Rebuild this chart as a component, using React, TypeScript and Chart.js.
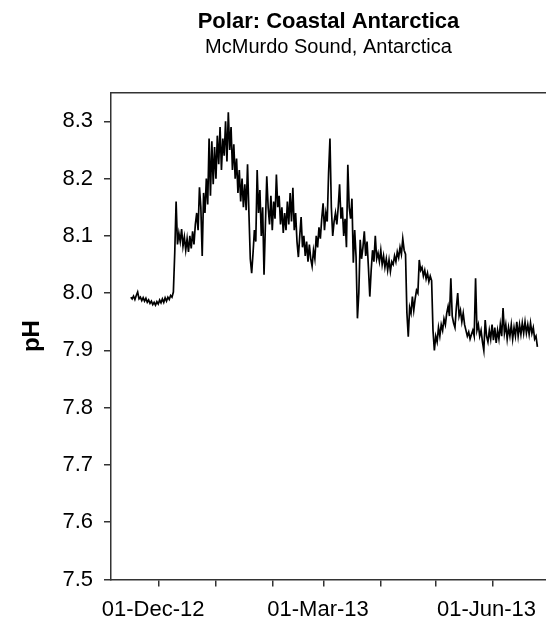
import { useEffect, useRef } from 'react';
import { Chart, registerables } from 'chart.js';

Chart.register(...registerables);

const titleText = 'Polar: Coastal Antarctica';
const subtitleText = 'McMurdo Sound, Antarctica';
const yAxisTitle = 'pH';

// x axis in days since 01-Dec-2012
const xTickDays = [0, 31, 62, 90, 121, 151, 182];
const xTickLabels = ['01-Dec-12', '', '', '01-Mar-13', '', '', '01-Jun-13'];
const yTickValues = [7.5, 7.6, 7.7, 7.8, 7.9, 8.0, 8.1, 8.2, 8.3];
const xMinDay = -26.3;
const xMaxDay = 211.2;
const yMin = 7.5;
const yMax = 8.35;

// regular sampling of the sensor record
const firstSampleDay = -15.5;
const sampleIntervalDays = 0.75;
const phValues = [
  7.993, 7.990, 7.995, 7.989, 7.996, 8.002, 7.990, 7.993, 7.987, 7.992, 7.986, 7.991, 7.984, 7.988, 7.982, 7.986,
  7.980, 7.984, 7.979, 7.985, 7.981, 7.988, 7.983, 7.990, 7.984, 7.992, 7.986, 7.993, 7.989, 7.996, 7.993, 8.002,
  8.070, 8.160, 8.085, 8.105, 8.090, 8.112, 8.082, 8.098, 8.075, 8.095, 8.072, 8.100, 8.078, 8.108, 8.085,
  8.120, 8.140, 8.110, 8.185, 8.150, 8.065, 8.175, 8.140,
  8.200, 8.155, 8.270, 8.170, 8.265, 8.190, 8.255,
  8.200, 8.275, 8.225, 8.290, 8.215, 8.270, 8.240, 8.300, 8.230, 8.316, 8.250, 8.290, 8.215, 8.260,
  8.200, 8.235, 8.175, 8.215, 8.160, 8.200, 8.150, 8.190, 8.145, 8.225,
  8.140, 8.060, 8.035, 8.070, 8.110, 8.090, 8.215, 8.140, 8.180, 8.100, 8.150, 8.032,
  8.120, 8.204, 8.150, 8.120, 8.170, 8.110, 8.160, 8.130, 8.207, 8.150, 8.170, 8.120, 8.150, 8.105, 8.140, 8.110,
  8.160, 8.120, 8.175, 8.125,
  8.184, 8.110, 8.140, 8.090, 8.063, 8.100, 8.133, 8.080, 8.100, 8.065, 8.090, 8.055, 8.085, 8.060, 8.047, 8.075,
  8.060, 8.100, 8.080, 8.115, 8.095, 8.130, 8.157,
  8.110, 8.140, 8.125, 8.210, 8.270, 8.150, 8.100, 8.125, 8.140, 8.120, 8.150, 8.190, 8.130, 8.150, 8.100, 8.130,
  8.080, 8.224, 8.150, 8.130, 8.165, 8.053, 8.110, 8.063,
  7.956, 8.000, 8.093, 8.060, 8.080, 8.108, 8.065, 8.090, 8.045, 7.994, 8.040, 8.075, 8.055, 8.100, 8.060, 8.070,
  8.055, 8.075, 8.050, 8.065, 8.045, 8.060, 8.040, 8.058, 8.038, 8.055, 8.050, 8.065, 8.055, 8.072, 8.062, 8.080,
  8.068, 8.095, 8.075, 8.068,
  7.966, 7.924, 7.975, 7.965, 7.994, 7.970, 7.990, 8.005, 8.000, 8.058, 8.040, 8.045, 8.030, 8.040, 8.025, 8.035,
  8.020, 8.030, 8.022,
  7.935, 7.900, 7.925, 7.915, 7.940, 7.925, 7.945, 7.935, 7.955, 7.945, 7.965, 7.977, 7.960, 8.026, 7.960, 7.948,
  7.940, 7.975, 8.000, 7.960, 7.970, 7.950, 7.965, 7.945, 7.935, 7.925, 7.932, 7.920, 7.928, 7.935, 7.925, 8.026,
  7.935, 7.945, 7.925, 7.935, 7.915, 7.900, 7.953, 7.925, 7.915, 7.935, 7.920, 7.945, 7.918, 7.940, 7.913, 7.935,
  7.920, 7.945, 7.925, 7.974, 7.930, 7.945, 7.920, 7.940, 7.925, 7.945, 7.920, 7.940, 7.925, 7.950, 7.925, 7.945,
  7.928, 7.948, 7.930, 7.950, 7.930, 7.945, 7.928, 7.948, 7.930, 7.940, 7.920, 7.925, 7.906,
];

const FONT = 'Liberation Sans, Arial, sans-serif';
const AXIS_COLOR = '#333333';

export default function App() {
  const ref = useRef<HTMLCanvasElement>(null);

  useEffect(() => {
    document.body.style.margin = '0';
    const points = phValues.map((v, i) => ({ x: firstSampleDay + i * sampleIntervalDays, y: v }));
    const chart = new Chart(ref.current as HTMLCanvasElement, {
      type: 'line',
      data: {
        datasets: [
          {
            data: points,
            borderColor: '#000000',
            borderWidth: 1.7,
            pointRadius: 0,
            tension: 0,
            fill: false,
          },
        ],
      },
      options: {
        animation: false,
        responsive: false,
        layout: { padding: 0 },
        plugins: {
          legend: { display: false },
          tooltip: { enabled: false },
          title: {
            display: true,
            text: titleText,
            fullSize: false,
            color: '#000',
            font: { family: FONT, size: 22, weight: 'bold' },
            padding: { top: 8.4, bottom: 0 },
          },
          subtitle: {
            display: true,
            text: subtitleText,
            fullSize: false,
            color: '#000',
            font: { family: FONT, size: 20 },
            padding: { top: 1, bottom: 32.9 },
          },
        },
        scales: {
          x: {
            type: 'linear',
            position: 'bottom',
            min: xMinDay,
            max: xMaxDay,
            afterBuildTicks: (s: any) => {
              s.ticks = xTickDays.map((v) => ({ value: v }));
            },
            afterFit: (s: any) => {
              s.height = 44.5;
              s.paddingLeft = 0;
              s.paddingRight = 0;
            },
            ticks: {
              autoSkip: false,
              maxRotation: 0,
              padding: 10,
              labelOffset: -6,
              color: '#000',
              font: { family: FONT, size: 22 },
              callback: (_v: any, i: number) => xTickLabels[i] ?? '',
            },
            grid: { drawOnChartArea: false, drawTicks: true, tickLength: 7, color: AXIS_COLOR, lineWidth: 1.5 },
            border: { display: true, color: AXIS_COLOR, width: 1.5 },
          },
          xTop: {
            type: 'linear',
            position: 'top',
            min: xMinDay,
            max: xMaxDay,
            afterFit: (s: any) => {
              s.height = 0;
              s.paddingLeft = 0;
              s.paddingRight = 0;
            },
            ticks: { display: false },
            grid: { display: false },
            border: { display: true, color: AXIS_COLOR, width: 1.5 },
          },
          y: {
            type: 'linear',
            position: 'left',
            min: yMin,
            max: yMax,
            afterBuildTicks: (s: any) => {
              s.ticks = yTickValues.map((v) => ({ value: v }));
            },
            afterFit: (s: any) => {
              s.width = 111;
            },
            ticks: {
              padding: 11,
              color: '#000',
              font: { family: FONT, size: 22 },
              callback: (v: any) => Number(v).toFixed(1),
            },
            title: {
              display: true,
              text: yAxisTitle,
              color: '#000',
              font: { family: FONT, size: 24, weight: 'bold' },
              padding: { top: 18, bottom: 0 },
            },
            grid: { drawOnChartArea: false, drawTicks: true, tickLength: 7, color: AXIS_COLOR, lineWidth: 1.5 },
            border: { display: true, color: AXIS_COLOR, width: 1.5 },
          },
        },
      },
    });
    return () => chart.destroy();
  }, []);

  return <canvas ref={ref} width={546} height={624} style={{ display: 'block' }} />;
}
